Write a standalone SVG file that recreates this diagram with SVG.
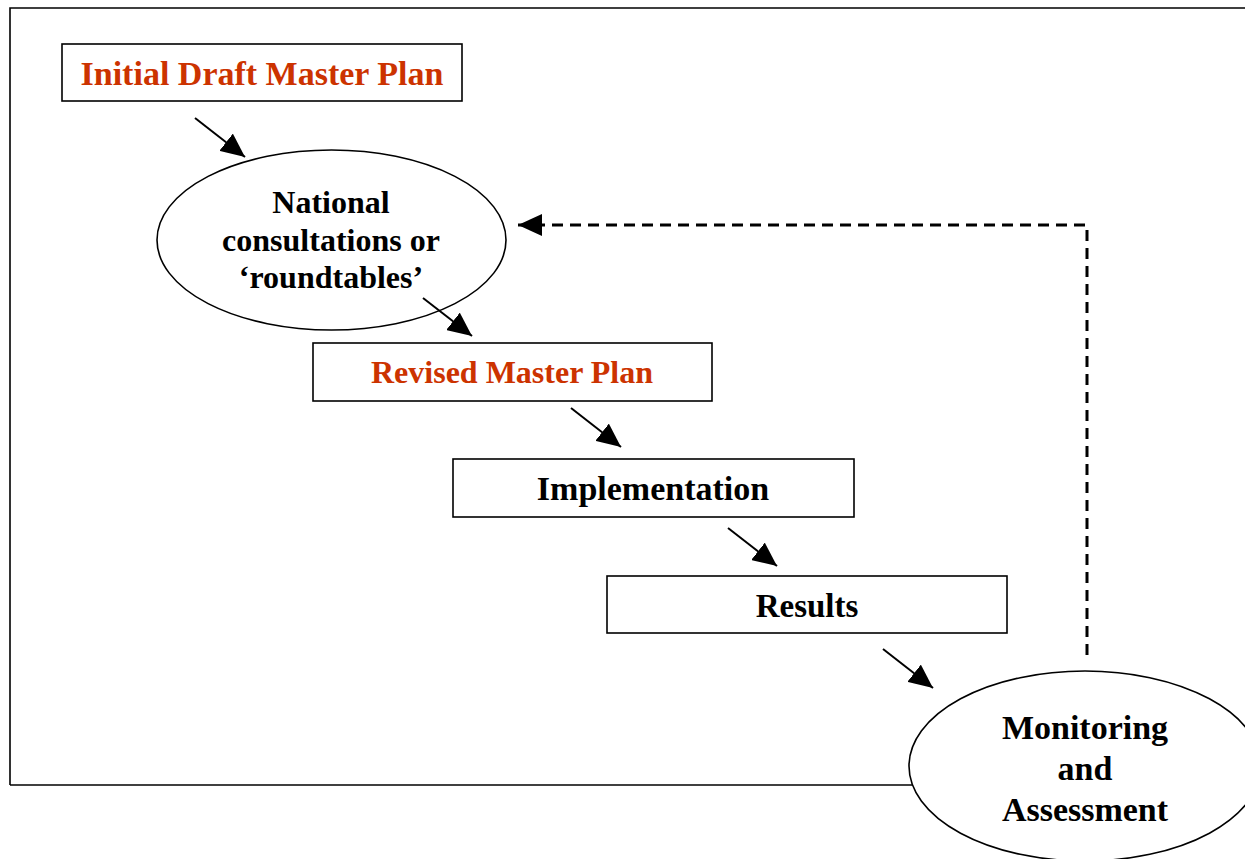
<svg xmlns="http://www.w3.org/2000/svg" width="1245" height="859" viewBox="0 0 1245 859">
<style>
.box{fill:#fff;stroke:#000;stroke-width:1.6}
.ell{fill:#fff;stroke:#000;stroke-width:1.6}
.t{font-family:"Liberation Serif","Times New Roman",serif;font-weight:bold;text-anchor:middle;fill:#000}
.red{fill:#cc3300}
.arr{stroke:#000;stroke-width:2;fill:none;marker-end:url(#ah)}
.dash{stroke:#000;stroke-width:3;fill:none;stroke-dasharray:11 7;marker-end:url(#ah2)}
</style>
<defs>
<marker id="ah" markerUnits="userSpaceOnUse" markerWidth="26" markerHeight="22" refX="24" refY="11" orient="auto">
<path d="M0,0 L24,11 L0,22 Z" fill="#000"/>
</marker>
<marker id="ah2" markerUnits="userSpaceOnUse" markerWidth="26" markerHeight="22" refX="24" refY="11" orient="auto">
<path d="M0,0 L24,11 L0,22 Z" fill="#000"/>
</marker>
</defs>
<rect width="1245" height="859" fill="#fff"/>
<g id="frame">
<path d="M10,785 L10,8 L1245,8" fill="none" stroke="#000" stroke-width="1.6"/>
<line x1="10" y1="785" x2="1000" y2="785" stroke="#000" stroke-width="1.6"/>
</g>
<g id="n1">
<rect class="box" x="62" y="44" width="400" height="57"/>
<text class="t red" x="262" y="85" font-size="34">Initial Draft Master Plan</text>
</g>
<g id="n2">
<ellipse class="ell" cx="331.5" cy="240" rx="174.5" ry="90"/>
<text class="t" x="331" y="213" font-size="32">National</text>
<text class="t" x="331" y="251" font-size="32">consultations or</text>
<text class="t" x="331" y="288" font-size="32">‘roundtables’</text>
</g>
<g id="n3">
<rect class="box" x="313" y="343" width="399" height="58"/>
<text class="t red" x="512" y="383" font-size="32">Revised Master Plan</text>
</g>
<g id="n4">
<rect class="box" x="453" y="459" width="401" height="58"/>
<text class="t" x="653" y="500" font-size="34">Implementation</text>
</g>
<g id="n5">
<rect class="box" x="607" y="576" width="400" height="57"/>
<text class="t" x="807" y="617" font-size="33">Results</text>
</g>
<g id="n6">
<ellipse class="ell" cx="1085" cy="766" rx="176" ry="95"/>
<text class="t" x="1085" y="739" font-size="34">Monitoring</text>
<text class="t" x="1085" y="780" font-size="34">and</text>
<text class="t" x="1085" y="821" font-size="34">Assessment</text>
</g>
<g id="connectors">
<line class="arr" x1="195" y1="118" x2="245" y2="157"/>
<line class="arr" x1="423" y1="298" x2="472" y2="336"/>
<line class="arr" x1="571" y1="408" x2="621" y2="447"/>
<line class="arr" x1="728" y1="528" x2="777" y2="566"/>
<line class="arr" x1="883" y1="649" x2="933" y2="688"/>
<path class="dash" d="M1087,655 L1087,225 L518,225"/>
</g>
</svg>
